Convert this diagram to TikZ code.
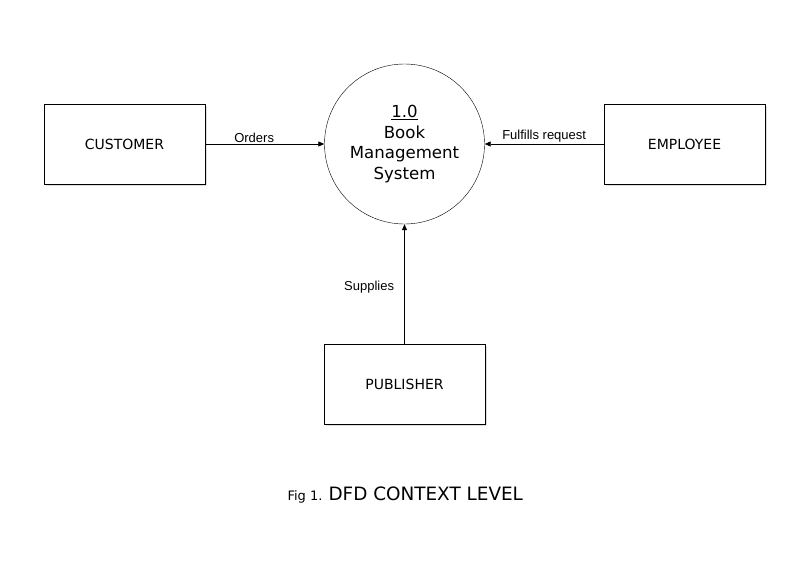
\documentclass[tikz,border=0pt]{standalone}
\usepackage{fontspec}
\setmainfont{DejaVu Sans}
\newfontfamily\labelfont{Liberation Sans}
\usetikzlibrary{arrows.meta,shadows}

\begin{document}
\begin{tikzpicture}
	[x=1pt,y=-1pt,
	 entity/.style={draw,thick,fill=white,minimum width=161pt,minimum height=80pt,
	   font=\fontsize{14}{16}\selectfont,drop shadow={shadow xshift=2pt,shadow yshift=-2pt,opacity=0.25}},
	 process/.style={draw,circle,fill=white,minimum size=160pt,inner sep=0pt,align=center,
	   font=\fontsize{16.6}{20.5}\selectfont},
	 flow/.style={-{Triangle[length=6pt,width=5pt]},thick},
	 flowlabel/.style={font=\labelfont\fontsize{13}{15}\selectfont}]
	\useasboundingbox (0,0) rectangle (808,562);
	% external entities
	\node[entity] (CU) at (124.5,144) {CUSTOMER};
	\node[entity] (EM) at (684.5,144) {EMPLOYEE};
	\node[entity] (PU) at (404.5,384) {PUBLISHER};
	% the process
	\node[process] (P) at (404.5,144) {\underline{1.0}\\Book\\Management\\System};

	% data flows
	\draw[flow] (CU) -- (P)
		node[flowlabel,pos=0.41,above,inner sep=1pt] {Orders};
	\draw[flow] (EM) -- (P)
		node[flowlabel,midway,above,inner sep=1pt] {Fulfills request};
	\draw[flow] (PU) -- (P)
		node[flowlabel,pos=0.47,left,inner xsep=10pt] {Supplies};

	% caption
	\node[anchor=base east,font=\fontsize{13}{15}\selectfont] (FIG) at (326,500) {Fig 1.};
	\node[anchor=base west,font=\fontsize{18.4}{20}\selectfont] (CAP) at (325,500) {DFD CONTEXT LEVEL};
\end{tikzpicture}
\end{document}
